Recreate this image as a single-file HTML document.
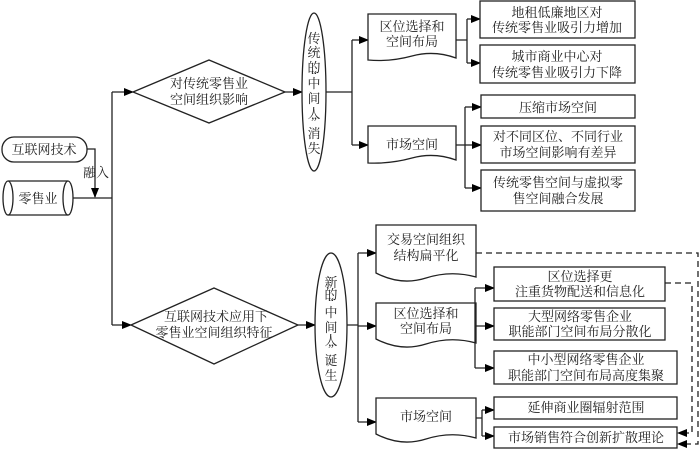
<!DOCTYPE html>
<html><head><meta charset="utf-8"><style>
html,body{margin:0;padding:0;background:#fff;}
svg{display:block;}
text{font-family:"Liberation Serif","Noto Serif CJK SC","Noto Sans CJK SC",serif;font-size:13px;fill:#222;}
</style></head><body>
<svg width="700" height="450" viewBox="0 0 700 450" xmlns="http://www.w3.org/2000/svg">
<defs>
<marker id="a" markerWidth="10" markerHeight="8" refX="9" refY="4" orient="auto" markerUnits="userSpaceOnUse">
<path d="M0,0 L10,4 L0,8 Z" fill="#000"/></marker>
</defs>
<g stroke="#222" stroke-width="1.3" fill="none">
<!-- left inputs -->
<rect x="2" y="137" width="85" height="25" rx="12" fill="#fff"/>
<path d="M87,149 H95 V197" marker-end="url(#a)"/>
<path d="M8,181 H68 M8,215 H68"/>
<ellipse cx="8" cy="198" rx="5" ry="17" fill="#fff"/>
<ellipse cx="68" cy="198" rx="5" ry="17" fill="#fff"/>
<path d="M73,198 H112"/>
<path d="M112,92 V325"/>
<path d="M112,92 H133" marker-end="url(#a)"/>
<path d="M112,325 H131" marker-end="url(#a)"/>
<!-- diamonds -->
<path d="M133,92 L209,60 L285,92 L209,123 Z" fill="#fff"/>
<path d="M131,325 L214,288 L298,325 L214,364 Z" fill="#fff"/>
<path d="M285,92 H302" marker-end="url(#a)"/>
<path d="M298,325 H315" marker-end="url(#a)"/>
<ellipse cx="314" cy="92" rx="12" ry="79" fill="#fff"/>
<ellipse cx="331" cy="325" rx="16" ry="72" fill="#fff"/>
<!-- top branch -->
<path d="M326,92 H352 M352,40 V145"/>
<path d="M352,40 H368" marker-end="url(#a)"/>
<path d="M352,145 H368" marker-end="url(#a)"/>
<path d="M368,14 H456 V58 Q434,50 412,56 T368,60 Z" fill="#fff"/>
<path d="M368,126 H456 V160 Q434,152 412,158 T368,163 Z" fill="#fff"/>
<path d="M456,40 H467 M467,19 V63"/>
<path d="M467,19 H480" marker-end="url(#a)"/>
<path d="M467,63 H480" marker-end="url(#a)"/>
<rect x="480" y="1" width="155" height="37" fill="#fff"/>
<rect x="480" y="45" width="155" height="38" fill="#fff"/>
<path d="M456,145 H465 M465,107 V188"/>
<path d="M465,107 H481" marker-end="url(#a)"/>
<path d="M465,145 H481" marker-end="url(#a)"/>
<path d="M465,188 H481" marker-end="url(#a)"/>
<rect x="481" y="95" width="154" height="23" fill="#fff"/>
<rect x="481" y="126" width="154" height="37" fill="#fff"/>
<rect x="481" y="170" width="154" height="41" fill="#fff"/>
<!-- bottom branch -->
<path d="M347,325 H358 M358,253 V422"/>
<path d="M358,253 H376" marker-end="url(#a)"/>
<path d="M358,326 H376" marker-end="url(#a)"/>
<path d="M358,422 H376" marker-end="url(#a)"/>
<path d="M376,225 H476 V277 Q451,270 426,278 T376,273 Z" fill="#fff"/>
<path d="M376,303 H476 V343 Q451,336 426,344 T376,339 Z" fill="#fff"/>
<path d="M376,398 H476 V438 Q451,431 426,439 T376,434 Z" fill="#fff"/>
<path d="M476,325 H475 M475,288 V368"/>
<path d="M475,288 H494" marker-end="url(#a)"/>
<path d="M475,326 H494" marker-end="url(#a)"/>
<path d="M475,368 H494" marker-end="url(#a)"/>
<rect x="494" y="267" width="171" height="34" fill="#fff"/>
<rect x="494" y="308" width="171" height="32" fill="#fff"/>
<rect x="494" y="351" width="183" height="33" fill="#fff"/>
<path d="M476,418 H482 M482,410 V436"/>
<path d="M482,410 H494" marker-end="url(#a)"/>
<path d="M482,436 H494" marker-end="url(#a)"/>
<rect x="494" y="397" width="183" height="22" fill="#fff"/>
<rect x="494" y="427" width="183" height="21" fill="#fff"/>
<!-- dashed -->
<path d="M476,253 H698 V444 H679" stroke-dasharray="6,4"/>
<path d="M665,283 H692 V433 H679" stroke-dasharray="6,4"/>
</g>
<path d="M677,433 L687,429 L687,437 Z M677,444 L687,440 L687,448 Z" fill="#000"/>
<g text-anchor="middle">
<text x="44" y="154">互联网技术</text>
<text x="38" y="203">零售业</text>
<text x="96" y="177">融入</text>
<text x="209" y="88">对传统零售业</text>
<text x="209" y="104">空间组织影响</text>
<text x="216" y="321">互联网技术应用下</text>
<text x="214" y="337">零售业空间组织特征</text>
<text x="314" y="43">传</text><text x="314" y="57">统</text><text x="314" y="72">的</text>
<text x="314" y="79" font-size="8">“</text>
<text x="314" y="88">中</text><text x="314" y="103">间</text><text x="314" y="118">人</text>
<text x="314" y="126" font-size="8">”</text>
<text x="314" y="138">消</text><text x="314" y="153">失</text>
<text x="331" y="287">新</text><text x="331" y="299">的</text>
<text x="331" y="306" font-size="8">“</text>
<text x="331" y="317">中</text><text x="331" y="332">间</text><text x="331" y="345">人</text>
<text x="331" y="353" font-size="8">”</text>
<text x="331" y="365">诞</text><text x="331" y="380">生</text>
<text x="412" y="31">区位选择和</text>
<text x="412" y="46">空间布局</text>
<text x="412" y="149">市场空间</text>
<text x="557" y="17">地租低廉地区对</text>
<text x="557" y="32">传统零售业吸引力增加</text>
<text x="557" y="61">城市商业中心对</text>
<text x="557" y="77">传统零售业吸引力下降</text>
<text x="558" y="112">压缩市场空间</text>
<text x="558" y="141">对不同区位、不同行业</text>
<text x="558" y="157">市场空间影响有差异</text>
<text x="558" y="187">传统零售空间与虚拟零</text>
<text x="558" y="203">售空间融合发展</text>
<text x="426" y="244">交易空间组织</text>
<text x="426" y="260">结构扁平化</text>
<text x="426" y="318">区位选择和</text>
<text x="426" y="333">空间布局</text>
<text x="426" y="421">市场空间</text>
<text x="580" y="281">区位选择更</text>
<text x="580" y="296">注重货物配送和信息化</text>
<text x="580" y="321">大型网络零售企业</text>
<text x="580" y="336">职能部门空间布局分散化</text>
<text x="586" y="364">中小型网络零售企业</text>
<text x="586" y="380">职能部门空间布局高度集聚</text>
<text x="586" y="412">延伸商业圈辐射范围</text>
<text x="586" y="442">市场销售符合创新扩散理论</text>
</g>
</svg>
</body></html>
